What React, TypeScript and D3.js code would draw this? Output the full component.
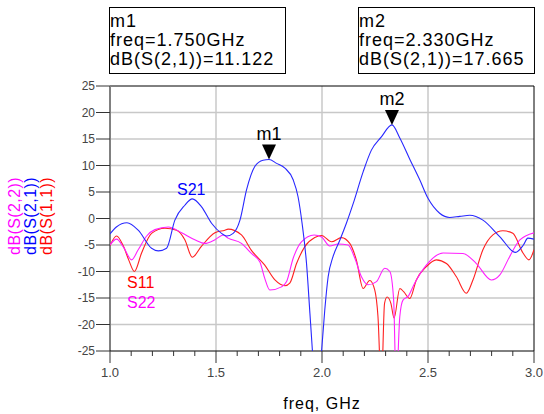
import { useEffect, useRef } from "react";
import * as d3 from "d3";

// S21 (blue)
const s21Freq = [1.0, 1.03, 1.08, 1.133, 1.196, 1.228, 1.267, 1.306, 1.353, 1.388, 1.432, 1.479, 1.526, 1.55, 1.581, 1.613, 1.644, 1.683, 1.722, 1.75, 1.786, 1.825, 1.864, 1.887, 1.906, 1.927, 1.943, 1.955, 1.975, 1.998, 2.013, 2.029, 2.052, 2.084, 2.115, 2.147, 2.194, 2.233, 2.28, 2.33, 2.367, 2.414, 2.461, 2.5, 2.555, 2.602, 2.65, 2.697, 2.759, 2.838, 2.913, 2.95, 2.971, 3.0];
const s21dB = [-2.9, -1.6, -0.8, -2.2, -5.6, -6.1, -5.6, -0.3, 2.5, 3.7, 2.2, -0.9, -2.8, -3.3, -2.8, -0.3, 5.4, 9.8, 11.0, 11.122, 10.4, 9.5, 7.3, 4.1, -0.9, -8.5, -17.9, -25.1, -40, -25, -17.3, -11, -7.2, -4.1, -0.9, 2.8, 8.8, 12.9, 15.4, 17.665, 15.2, 11.2, 7.3, 3.8, 1.0, 0.2, 0.4, 0.6, -0.3, -3.4, -6.4, -5.0, -3.7, -3.9];

// S11 (red)
const s11Freq = [1.0, 1.031, 1.063, 1.09, 1.115, 1.149, 1.196, 1.259, 1.314, 1.353, 1.388, 1.432, 1.495, 1.542, 1.557, 1.62, 1.667, 1.73, 1.778, 1.825, 1.848, 1.88, 1.919, 1.966, 1.998, 2.045, 2.092, 2.131, 2.162, 2.194, 2.225, 2.249, 2.264, 2.28, 2.295, 2.307, 2.325, 2.34, 2.367, 2.385, 2.414, 2.445, 2.492, 2.539, 2.587, 2.634, 2.681, 2.712, 2.759, 2.806, 2.853, 2.9, 2.948, 2.976, 3.0];
const s11dB = [-5.1, -3.3, -5.2, -8.0, -10.0, -6.5, -2.8, -1.85, -2.2, -4.0, -7.3, -5.2, -2.7, -2.2, -2.0, -3.1, -6.0, -8.8, -11.6, -12.7, -12.2, -8.5, -5.3, -3.6, -3.2, -4.4, -3.6, -4.7, -7.8, -13.2, -11.7, -13.5, -18.5, -32, -16, -14.8, -16, -18.8, -13.2, -13.8, -15.1, -11.6, -9.1, -7.8, -8.5, -11, -14.1, -11.6, -5.9, -3.1, -2.3, -2.8, -6.5, -7.8, -5.9];

// S22 (magenta)
const s22Freq = [1.0, 1.031, 1.065, 1.102, 1.133, 1.173, 1.212, 1.275, 1.338, 1.4, 1.448, 1.495, 1.534, 1.557, 1.62, 1.667, 1.707, 1.73, 1.754, 1.809, 1.833, 1.864, 1.903, 1.963, 1.998, 2.037, 2.076, 2.123, 2.155, 2.186, 2.217, 2.257, 2.296, 2.32, 2.338, 2.35, 2.367, 2.382, 2.406, 2.437, 2.492, 2.571, 2.665, 2.728, 2.799, 2.838, 2.885, 2.932, 3.0];
const s22dB = [-5.0, -3.9, -5.5, -7.8, -5.9, -3.3, -2.1, -1.6, -2.7, -4.0, -4.7, -4.0, -3.1, -3.7, -4.7, -6.6, -8.2, -11.3, -13.5, -12.9, -11.9, -7.5, -4.4, -3.1, -3.5, -5.2, -4.8, -5.0, -7.5, -11.0, -12.5, -11.9, -9.4, -10.0, -15.4, -32, -18.5, -15.4, -14.7, -12.2, -8.8, -6.5, -6.6, -8.5, -11.6, -10.7, -7.2, -4.1, -2.7];

const xTicks = [1.0, 1.5, 2.0, 2.5, 3.0];
const yTicks = [25, 20, 15, 10, 5, 0, -5, -10, -15, -20, -25];

const markerNames = ["m1", "m2"];
const markerFreq = [1.75, 2.33];
const markerdB = [11.122, 17.665];

const FONT = "'Liberation Sans', Arial, sans-serif";

const Chart = () => {
  const ref = useRef<HTMLDivElement>(null);

  useEffect(() => {
    const width = 544;
    const height = 414;
    const left = 110, right = 534, top = 86, bottom = 351;

    d3.select(ref.current).selectAll("*").remove();
    const svg = d3
      .select(ref.current)
      .append("svg")
      .attr("width", width)
      .attr("height", height)
      .style("display", "block")
      .style("background", "#fff");

    const x = d3.scaleLinear().domain([1, 3]).range([left, right]);
    const y = d3.scaleLinear().domain([-25, 25]).range([bottom, top]);

    // grid
    svg
      .append("g")
      .selectAll("line")
      .data(yTicks.filter((d) => d > -25 && d < 25))
      .join("line")
      .attr("x1", left)
      .attr("x2", right)
      .attr("y1", (d) => y(d))
      .attr("y2", (d) => y(d))
      .attr("stroke", "#c8c8c8")
      .attr("stroke-width", 1.5);
    svg
      .append("g")
      .selectAll("line")
      .data([1.5, 2.0, 2.5])
      .join("line")
      .attr("x1", (d) => x(d))
      .attr("x2", (d) => x(d))
      .attr("y1", top)
      .attr("y2", bottom)
      .attr("stroke", "#c8c8c8")
      .attr("stroke-width", 1.5);

    // frame
    svg.append("line").attr("x1", left).attr("x2", right).attr("y1", top).attr("y2", top).attr("stroke", "#000");
    svg.append("line").attr("x1", right).attr("x2", right).attr("y1", top).attr("y2", bottom).attr("stroke", "#000");
    svg.append("line").attr("x1", left).attr("x2", left).attr("y1", top).attr("y2", bottom).attr("stroke", "#808080").attr("stroke-width", 2);

    // y axis
    const yAxis = svg.append("g").attr("transform", `translate(${left},0)`);
    yAxis
      .selectAll("line")
      .data(yTicks)
      .join("line")
      .attr("x1", -14)
      .attr("x2", 0)
      .attr("y1", (d) => y(d))
      .attr("y2", (d) => y(d))
      .attr("stroke", "#333");
    yAxis
      .selectAll("text")
      .data(yTicks)
      .join("text")
      .attr("x", -15)
      .attr("y", (d) => y(d) + 4)
      .attr("text-anchor", "end")
      .style("font-family", FONT)
      .style("font-size", "12px")
      .attr("fill", "#444")
      .text((d) => d);

    // x axis: minor ticks every 0.1, major every 0.5
    const xAxis = svg.append("g").attr("transform", `translate(0,${bottom})`);
    xAxis.append("line").attr("x1", left).attr("x2", right).attr("stroke", "#000");
    xAxis
      .selectAll("line.tick")
      .data(d3.range(0, 21).map((i) => 1 + i * 0.1))
      .join("line")
      .attr("class", "tick")
      .attr("x1", (d) => x(d))
      .attr("x2", (d) => x(d))
      .attr("y1", 0)
      .attr("y2", (d, i) => (i % 5 === 0 ? 12 : 5))
      .attr("stroke", "#333");
    xAxis
      .selectAll("text")
      .data(xTicks)
      .join("text")
      .attr("x", (d) => x(d))
      .attr("y", 26)
      .attr("text-anchor", "middle")
      .style("font-family", FONT)
      .style("font-size", "13px")
      .attr("fill", "#444")
      .text((d) => d.toFixed(1));

    svg
      .append("text")
      .attr("x", (left + right) / 2)
      .attr("y", 409)
      .attr("text-anchor", "middle")
      .style("font-family", FONT)
      .style("font-size", "16px")
      .style("letter-spacing", "1px")
      .text("freq, GHz");

    // y label (stacked, rotated)
    const yLabels = [
      { t: "dB(S(2,2))", c: "#ff00ff", x: 20 },
      { t: "dB(S(2,1))", c: "#0000ff", x: 36 },
      { t: "dB(S(1,1))", c: "#ff0000", x: 52 },
    ];
    yLabels.forEach((l) => {
      svg
        .append("text")
        .attr("transform", `translate(${l.x},216) rotate(-90)`)
        .attr("text-anchor", "middle")
        .style("font-family", FONT)
        .style("font-size", "16px")
        .style("letter-spacing", "0.4px")
        .attr("fill", l.c)
        .text(l.t);
    });

    // traces
    svg
      .append("clipPath")
      .attr("id", "plotclip")
      .append("rect")
      .attr("x", left)
      .attr("y", top)
      .attr("width", right - left)
      .attr("height", bottom - top);

    const line = d3
      .line<[number, number]>()
      .x((d) => x(d[0]))
      .y((d) => y(d[1]))
      .curve(d3.curveMonotoneX);

    const series = [
      { f: s11Freq, v: s11dB, c: "#ff2020" },
      { f: s22Freq, v: s22dB, c: "#ff20ff" },
      { f: s21Freq, v: s21dB, c: "#2828ff" },
    ];
    const traces = svg.append("g").attr("clip-path", "url(#plotclip)");
    series.forEach((s) => {
      traces
        .append("path")
        .attr("fill", "none")
        .attr("stroke", s.c)
        .attr("stroke-width", 1.1)
        .attr("d", line(s.f.map((f, i) => [f, s.v[i]] as [number, number])));
    });

    // trace labels
    const traceLabels = [
      { t: "S21", c: "#0000ff", x: 177, y: 195 },
      { t: "S11", c: "#ff0000", x: 127, y: 288 },
      { t: "S22", c: "#ff00ff", x: 127, y: 308 },
    ];
    traceLabels.forEach((l) => {
      svg
        .append("text")
        .attr("x", l.x)
        .attr("y", l.y)
        .style("font-family", FONT)
        .style("font-size", "16px")
        .attr("fill", l.c)
        .text(l.t);
    });

    // markers
    markerNames.forEach((m, i) => {
      const px = x(markerFreq[i]);
      const py = y(markerdB[i]);
      svg
        .append("path")
        .attr("d", `M${px - 7},${py - 15}L${px + 7},${py - 15}L${px},${py}Z`)
        .attr("fill", "#000");
      svg
        .append("text")
        .attr("x", px)
        .attr("y", py - 20)
        .attr("text-anchor", "middle")
        .style("font-family", FONT)
        .style("font-size", "18px")
        .text(m);
    });

    // marker readout boxes
    const boxX = [109, 358];
    const boxW = [176, 176];
    markerNames.forEach((m, i) => {
      const g = svg.append("g").attr("transform", `translate(${boxX[i]},7)`);
      g.append("rect")
        .attr("x", 0.5)
        .attr("y", 0.5)
        .attr("width", boxW[i])
        .attr("height", 66)
        .attr("fill", "#fff")
        .attr("stroke", "#000");
      const lines = [
        m,
        `freq=${markerFreq[i].toFixed(3)}GHz`,
        `dB(S(2,1))=${markerdB[i].toFixed(3)}`,
      ];
      lines.forEach((t, j) => {
        g.append("text")
          .attr("x", 1)
          .attr("y", 19.5 + j * 19.3)
          .style("font-family", FONT)
          .style("font-size", "18px")
          .style("letter-spacing", "1px")
          .text(t);
      });
    });
  }, []);

  return <div ref={ref}></div>;
};

export default function App() {
  return (
    <div style={{ position: "fixed", left: 0, top: 0, width: 544, height: 414 }}>
      <Chart />
    </div>
  );
}
